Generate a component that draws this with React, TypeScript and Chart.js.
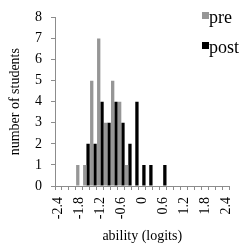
import React, { useEffect, useRef } from "react";
import { Chart, registerables } from "chart.js";

Chart.register(...registerables);

const categories = [
  "-2.4", "-2.2", "-2", "-1.8", "-1.6", "-1.4", "-1.2", "-1", "-0.8", "-0.6", "-0.4", "-0.2",
  "0", "0.2", "0.4", "0.6", "0.8", "1", "1.2", "1.4", "1.6", "1.8", "2", "2.2", "2.4",
];
const tickLabels = ["-2.4", "-1.8", "-1.2", "-0.6", "0", "0.6", "1.2", "1.8", "2.4"];
const preValues = [0, 0, 0, 1, 1, 5, 7, 3, 5, 4, 1, 0, 0, 0, 0, 0, 0, 0, 0, 0, 0, 0, 0, 0, 0];
const postValues = [0, 0, 0, 0, 2, 2, 4, 3, 4, 3, 2, 4, 1, 1, 0, 1, 0, 0, 0, 0, 0, 0, 0, 0, 0];
const seriesNames = ["pre", "post"];
const seriesColors = ["#969696", "#000000"];

const FONT = "'Liberation Serif', 'Times New Roman', serif";

const legendPlugin = {
  id: "overlayLegend",
  afterDraw(chart: any) {
    const ctx = chart.ctx;
    ctx.save();
    ctx.font = `18px ${FONT}`;
    ctx.textBaseline = "alphabetic";
    ctx.textAlign = "left";
    chart.data.datasets.forEach((ds: any, i: number) => {
      const y0 = 12 + i * 30;
      ctx.fillStyle = ds.backgroundColor;
      ctx.fillRect(202, y0, 7, 7);
      ctx.fillStyle = "#000";
      ctx.fillText(ds.label, 209, y0 + 11);
    });
    ctx.restore();
  },
};

export default function App() {
  const ref = useRef<HTMLCanvasElement>(null);
  useEffect(() => {
    if (!ref.current) return;
    Chart.defaults.font.family = FONT;
    const chart = new Chart(ref.current, {
      type: "bar",
      data: {
        labels: categories,
        datasets: [
          { label: seriesNames[0], data: preValues, backgroundColor: seriesColors[0], categoryPercentage: 0.95, barPercentage: 1 },
          { label: seriesNames[1], data: postValues, backgroundColor: seriesColors[1], categoryPercentage: 0.95, barPercentage: 1 },
        ],
      },
      options: {
        responsive: false,
        animation: false,
        layout: { padding: { top: 16, right: 9, left: 0, bottom: 0 } },
        plugins: { legend: { display: false }, tooltip: { enabled: false } },
        scales: {
          x: {
            type: "category",
            offset: true,
            afterFit: (s: any) => { s.height = 64; },
            grid: { display: true, drawOnChartArea: false, offset: true, tickLength: 4, color: "#8c8c8c" },
            border: { display: true, color: "#8c8c8c" },
            ticks: {
              autoSkip: false,
              maxRotation: 90,
              minRotation: 90,
              padding: 7,
              color: "#000",
              font: { size: 14, family: FONT },
              callback: function (this: any, value: any) {
                const lab = categories[value as number];
                return tickLabels.includes(lab) ? lab : "";
              },
            },
            title: { display: true, text: "ability (logits)", color: "#000", font: { size: 14, family: FONT }, padding: { top: 0, bottom: 5 } },
          },
          y: {
            min: 0,
            max: 8,
            afterFit: (s: any) => { s.width = 55; },
            grid: { display: true, drawOnChartArea: false, tickLength: 4, color: "#8c8c8c" },
            border: { display: true, color: "#8c8c8c" },
            ticks: { stepSize: 1, padding: 9, color: "#000", font: { size: 14, family: FONT } },
            title: { display: true, text: "number of students", color: "#000", font: { size: 14, family: FONT }, padding: { top: 7, bottom: 0 } },
          },
        },
      },
      plugins: [legendPlugin],
    });
    return () => chart.destroy();
  }, []);
  return (
    <div style={{ position: "fixed", left: 0, top: 0, width: 250, height: 250, background: "#fff" }}>
      <canvas ref={ref} width={250} height={250} />
    </div>
  );
}
